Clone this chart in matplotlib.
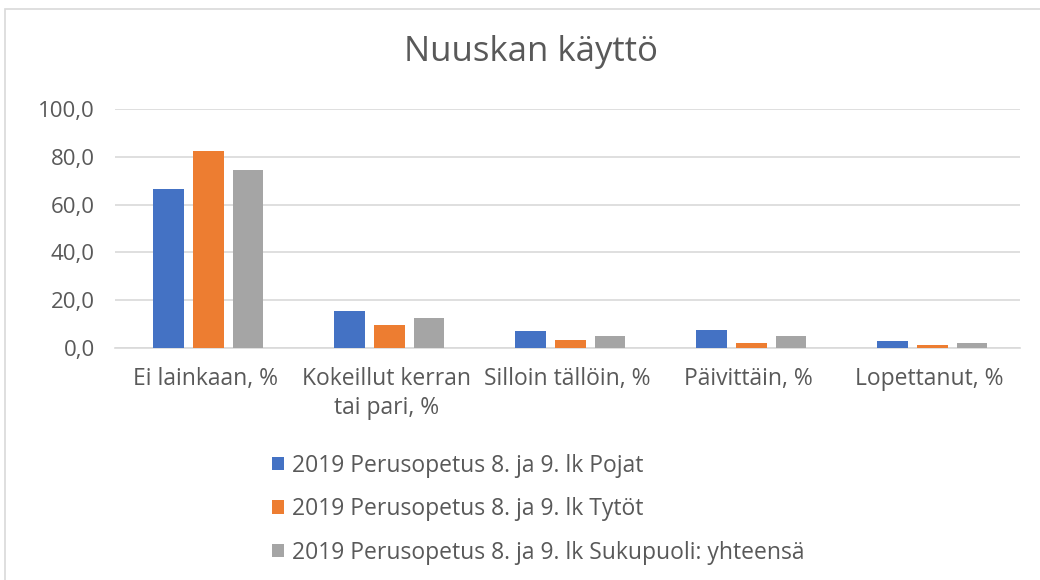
import matplotlib
matplotlib.use("Agg")
import matplotlib.pyplot as plt
from matplotlib.patches import Rectangle
import numpy as np

categories = ["Ei lainkaan, %", "Kokeillut kerran\ntai pari, %", "Silloin tällöin, %", "Päivittäin, %", "Lopettanut, %"]
series_names = ["2019 Perusopetus 8. ja 9. lk Pojat",
                "2019 Perusopetus 8. ja 9. lk Tytöt",
                "2019 Perusopetus 8. ja 9. lk Sukupuoli: yhteensä"]
pojat = [66.4, 15.5, 7.1, 7.7, 2.9]
tytot = [82.4, 9.5, 3.5, 2.2, 1.4]
yhteensa = [74.6, 12.5, 5.2, 4.9, 2.2]
yticks = [0, 20, 40, 60, 80, 100]
colors = ["#4472C4", "#ED7D31", "#A5A5A5"]

plt.rcParams['font.family'] = ['Open Sans', 'DejaVu Sans']
W, H = 1040, 580
fig = plt.figure(figsize=(W/100, H/100), dpi=100)
ax = fig.add_axes([115/W, 1-348/H, 905/W, 239/H])

x = np.arange(len(categories))
bw = 0.17
step = 0.22
for i, (vals, c, name) in enumerate(zip([pojat, tytot, yhteensa], colors, series_names)):
    ax.bar(x + (i-1)*step + 0.015, vals, bw, color=c, label=name, zorder=3)

ax.set_xlim(-0.5, len(categories)-0.5)
ax.set_ylim(0, 100)
ax.set_yticks(yticks)
ax.set_yticklabels([f"{v:.1f}".replace(".", ",") for v in yticks], fontsize=16, color="#595959")
ax.set_xticks(x)
ax.set_xticklabels(categories, fontsize=16.5, color="#595959", linespacing=1.25)
ax.tick_params(axis='both', length=0)
ax.tick_params(axis='y', pad=14.5)
ax.tick_params(axis='x', pad=14)
ax.grid(axis='y', color="#D9D9D9", linewidth=1.2, zorder=0)
for s in ["top", "right", "left"]:
    ax.spines[s].set_visible(False)
ax.spines["bottom"].set_color("#D9D9D9")
ax.spines["bottom"].set_linewidth(1.2)

fig.text(531/W, 1-52/H, "Nuuskan käyttö", ha="center", va="center", fontsize=25, color="#595959")

# Legend entries
handles, labels = ax.get_legend_handles_labels()
leg = fig.legend(handles, labels, loc="upper left", bbox_to_anchor=(251/W, 1-433/H),
                 frameon=False, fontsize=16.5, labelcolor="#595959", handlelength=0.55,
                 handleheight=0.55, handletextpad=0.35, labelspacing=0.85)

fig.patches.append(Rectangle((5/W, -0.1), 1.2, 1-9/H+0.1, transform=fig.transFigure,
                             fill=False, edgecolor="#D9D9D9", linewidth=1.2))
fig.savefig("out.png", dpi=100)
